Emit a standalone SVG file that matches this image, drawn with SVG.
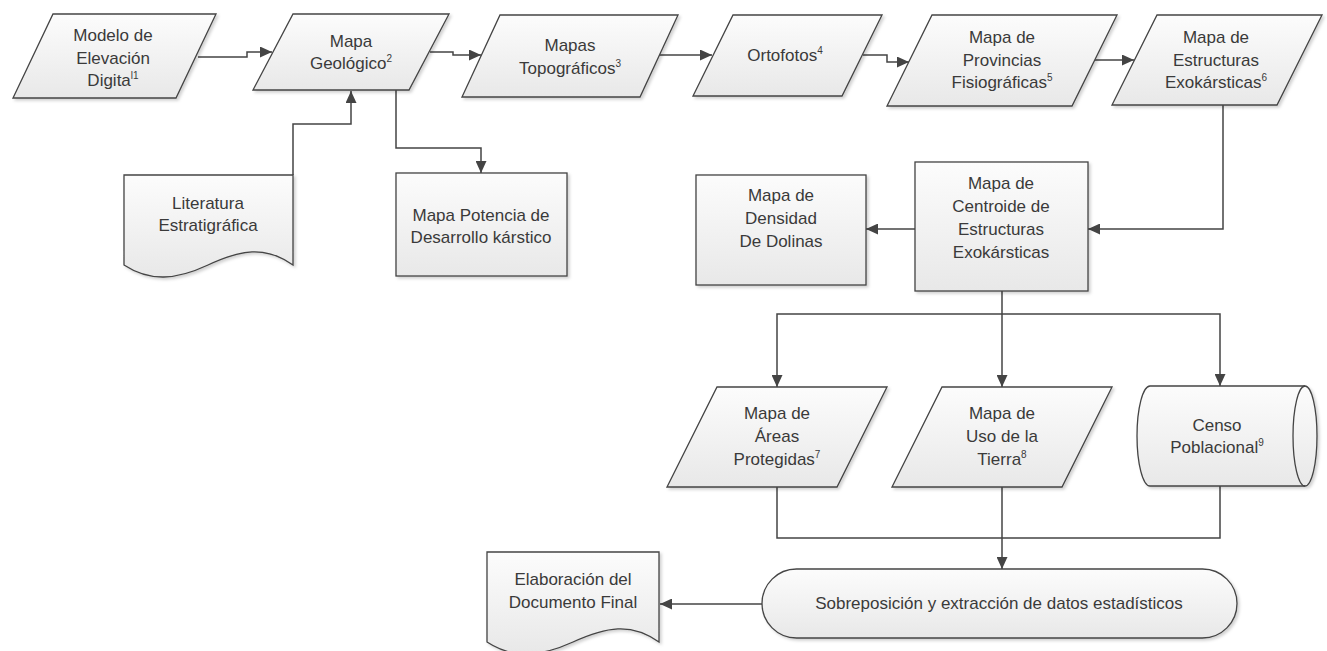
<svg xmlns="http://www.w3.org/2000/svg" width="1327" height="651" viewBox="0 0 1327 651">
<style>
.shape{fill:url(#grad);stroke:#444;stroke-width:1.3;filter:url(#sh)}
.line{fill:none;stroke:#444;stroke-width:1.5}
.arr{marker-end:url(#ah)}
text{font-family:"Liberation Sans",Arial,sans-serif;font-size:17px;fill:#3a3a3a;text-anchor:middle}
.sup{font-size:10px}
</style>
<defs>
<linearGradient id="grad" x1="0" y1="0" x2="0" y2="1">
<stop offset="0" stop-color="#fcfcfc"/>
<stop offset="1" stop-color="#e8e8e8"/>
</linearGradient>
<filter id="sh" x="-10%" y="-10%" width="130%" height="130%">
<feDropShadow dx="2" dy="2" stdDeviation="1.5" flood-color="#000" flood-opacity="0.18"/>
</filter>
<marker id="ah" markerUnits="userSpaceOnUse" viewBox="0 0 12 11" markerWidth="12" markerHeight="11" refX="12" refY="5.5" orient="auto">
<path d="M0,0 L12,5.5 L0,11 z" fill="#444"/>
</marker>
</defs>

<g id="connectors">
<path class="line arr" d="M198,57 H247 V52 H272"/>
<path class="line arr" d="M430,52 H453 V55 H481"/>
<path class="line arr" d="M659,55 H712"/>
<path class="line arr" d="M863,55 H887 V62 H909"/>
<path class="line arr" d="M1095,60 H1134"/>
<path class="line arr" d="M1223,105 V229 H1088"/>
<path class="line arr" d="M915,229 H866"/>
<path class="line arr" d="M293,175 V124 H351 V91"/>
<path class="line arr" d="M396,90 V148 H481 V173"/>
<path class="line" d="M1002,291 V314"/>
<path class="line arr" d="M1002,314 H777 V387"/>
<path class="line arr" d="M1002,314 V387"/>
<path class="line arr" d="M1002,314 H1220 V386"/>
<path class="line" d="M777,487 V538 H1220 V486"/>
<path class="line arr" d="M1002,487 V569"/>
<path class="line arr" d="M762,604 H660"/>
</g>

<g id="n-modelo">
<polygon class="shape" points="53,14 216,14 176,98 13,98"/>
<text x="113" y="41">Modelo de</text>
<text x="113" y="64">Elevación</text>
<text x="113" y="86">Digita<tspan class="sup" dy="-7">l1</tspan></text>
</g>

<g id="n-geologico">
<polygon class="shape" points="293,14 449,14 409,90 253,90"/>
<text x="351" y="47">Mapa</text>
<text x="351" y="69">Geológico<tspan class="sup" dy="-7">2</tspan></text>
</g>

<g id="n-topograficos">
<polygon class="shape" points="500,15 678,15 640,97 462,97"/>
<text x="570" y="51">Mapas</text>
<text x="570" y="74">Topográficos<tspan class="sup" dy="-7">3</tspan></text>
</g>

<g id="n-ortofotos">
<polygon class="shape" points="733,15 882,15 842,96 693,96"/>
<text x="785" y="61">Ortofotos<tspan class="sup" dy="-7">4</tspan></text>
</g>

<g id="n-provincias">
<polygon class="shape" points="932,15 1117,15 1072,106 887,106"/>
<text x="1002" y="43">Mapa de</text>
<text x="1002" y="66">Provincias</text>
<text x="1002" y="88">Fisiográficas<tspan class="sup" dy="-7">5</tspan></text>
</g>

<g id="n-estructuras">
<polygon class="shape" points="1157,15 1322,15 1277,105 1112,105"/>
<text x="1216" y="43">Mapa de</text>
<text x="1216" y="66">Estructuras</text>
<text x="1216" y="88">Exokársticas<tspan class="sup" dy="-7">6</tspan></text>
</g>

<g id="n-literatura">
<path class="shape" d="M124,175 H293 V265 C265,245 240,250 208,265 C176,280 150,282 124,265 Z"/>
<text x="208" y="209">Literatura</text>
<text x="208" y="231">Estratigráfica</text>
</g>

<g id="n-potencia">
<rect class="shape" x="396" y="173" width="171" height="103"/>
<text x="481" y="221">Mapa Potencia de</text>
<text x="481" y="243">Desarrollo kárstico</text>
</g>

<g id="n-densidad">
<rect class="shape" x="696" y="175" width="170" height="110"/>
<text x="781" y="201">Mapa de</text>
<text x="781" y="224">Densidad</text>
<text x="781" y="247">De Dolinas</text>
</g>

<g id="n-centroide">
<rect class="shape" x="915" y="162" width="173" height="129"/>
<text x="1001" y="189">Mapa de</text>
<text x="1001" y="212">Centroide de</text>
<text x="1001" y="235">Estructuras</text>
<text x="1001" y="258">Exokársticas</text>
</g>

<g id="n-areas">
<polygon class="shape" points="717,387 887,387 837,487 667,487"/>
<text x="777" y="419">Mapa de</text>
<text x="777" y="442">Áreas</text>
<text x="777" y="465">Protegidas<tspan class="sup" dy="-7">7</tspan></text>
</g>

<g id="n-uso">
<polygon class="shape" points="942,387 1112,387 1062,487 892,487"/>
<text x="1002" y="419">Mapa de</text>
<text x="1002" y="442">Uso de la</text>
<text x="1002" y="465">Tierra<tspan class="sup" dy="-7">8</tspan></text>
</g>

<g id="n-censo">
<path class="shape" d="M1150,386 H1305 A12,50 0 0 1 1305,486 H1150 A13,50 0 0 1 1150,386 Z"/>
<path d="M1305,386 A12,50 0 0 0 1305,486" fill="none" stroke="#444" stroke-width="1.3"/>
<text x="1217" y="431">Censo</text>
<text x="1217" y="453">Poblacional<tspan class="sup" dy="-7">9</tspan></text>
</g>

<g id="n-sobreposicion">
<rect class="shape" x="762" y="569" width="475" height="69" rx="34.5" ry="34.5"/>
<text x="999" y="609">Sobreposición y extracción de datos estadísticos</text>
</g>

<g id="n-elaboracion">
<path class="shape" d="M487,552 H659 V642 C631,622 606,627 573,642 C540,657 513,659 487,642 Z"/>
<text x="573" y="585">Elaboración del</text>
<text x="573" y="608">Documento Final</text>
</g>
</svg>
